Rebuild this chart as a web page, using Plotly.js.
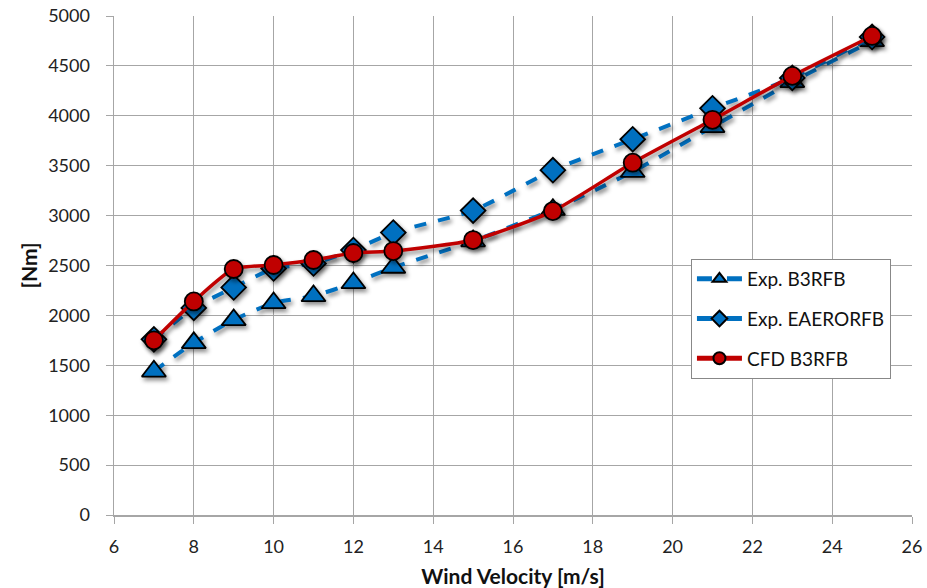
<!DOCTYPE html>
<html>
<head>
<meta charset="utf-8">
<script src="https://cdn.plot.ly/plotly-3.0.1.min.js"></script>
<style>
html,body{margin:0;padding:0;background:#fff;}
#chart{width:927px;height:588px;}
.scatterlayer .trace{filter: drop-shadow(2px 3px 2px rgba(0,0,0,0.45));}
</style>
</head>
<body>
<div id="chart"></div>
<script>
const windVelocity = [7, 8, 9, 10, 11, 12, 13, 15, 17, 19, 21, 23, 25];
const expB3RFB     = [1440, 1725, 1955, 2125, 2195, 2325, 2480, 2745, 3060, 3440, 3890, 4340, 4750];
const expEAERORFB  = [1760, 2075, 2280, 2470, 2520, 2655, 2830, 3050, 3455, 3765, 4075, 4380, 4790];
const cfdB3RFB     = [1750, 2140, 2465, 2505, 2555, 2625, 2645, 2755, 3045, 3530, 3960, 4400, 4800];
const xTicks = [6, 8, 10, 12, 14, 16, 18, 20, 22, 24, 26];
const yTicks = [0, 500, 1000, 1500, 2000, 2500, 3000, 3500, 4000, 4500, 5000];

const blue = '#0070C0';
const red = '#C00000';
const font = 'Lato, Open Sans, Noto Sans, sans-serif';

const traces = [
  {
    x: windVelocity, y: expB3RFB, name: 'Exp. B3RFB', type: 'scatter', mode: 'lines+markers', legendgroup: 'g1',
    line: {color: blue, width: 4, dash: 'dash', shape: 'spline', smoothing: 0.6},
    marker: {symbol: 'triangle-up', size: 21, color: blue, line: {color: '#000', width: 1.8}}
  },
  {
    x: windVelocity, y: expEAERORFB, name: 'Exp. EAERORFB', type: 'scatter', mode: 'lines+markers', legendgroup: 'g2',
    line: {color: blue, width: 4, dash: 'dash', shape: 'spline', smoothing: 0.6},
    marker: {symbol: 'diamond', size: 19, color: blue, line: {color: '#000', width: 1.8}}
  },
  {
    x: windVelocity, y: cfdB3RFB, name: 'CFD B3RFB', type: 'scatter', mode: 'lines+markers', legendgroup: 'g3',
    line: {color: red, width: 3.5, shape: 'spline', smoothing: 0.6},
    marker: {symbol: 'circle', size: 18, color: red, line: {color: '#000', width: 1.8}}
  }
];

const layout = {
  width: 927, height: 588,
  margin: {l: 114, r: 15, t: 16, b: 73},
  paper_bgcolor: '#fff', plot_bgcolor: '#fff',
  font: {family: font, size: 18, color: '#222'},
  showlegend: true,
  legend: {
    x: 0.723, y: 0.513, xanchor: 'left', yanchor: 'top',
    bgcolor: '#fff', bordercolor: '#888', borderwidth: 1,
    font: {family: font, size: 19, color: '#111'},
    traceorder: 'grouped', tracegroupgap: 12, itemwidth: 45, itemsizing: 'constant'
  },
  xaxis: {
    range: [6, 26], tickvals: xTicks, ticktext: xTicks.map(String),
    showgrid: true, gridcolor: '#A6A6A6', gridwidth: 1,
    showline: true, linecolor: '#A6A6A6', linewidth: 1.5,
    ticks: 'outside', ticklen: 7, tickcolor: '#A6A6A6', ticklabelstandoff: 8,
    zeroline: false, tickfont: {size: 18, family: font, color: '#222'},
    title: {text: '<b>Wind Velocity [m/s]</b>', font: {size: 21, family: font, color: '#111'}, standoff: 13}
  },
  yaxis: {
    range: [0, 5000], tickvals: yTicks, ticktext: yTicks.map(String),
    showgrid: true, gridcolor: '#A6A6A6', gridwidth: 1,
    showline: true, linecolor: '#A6A6A6', linewidth: 1.5,
    ticks: 'outside', ticklen: 7, tickcolor: '#A6A6A6', ticklabelstandoff: 12,
    zeroline: false, tickfont: {size: 18, family: font, color: '#222'},
    title: {text: '<b>[Nm]</b>', font: {size: 21, family: font, color: '#111'}, standoff: 5}
  }
};

Plotly.newPlot('chart', traces, layout, {displayModeBar: false, staticPlot: true});
</script>
</body>
</html>
